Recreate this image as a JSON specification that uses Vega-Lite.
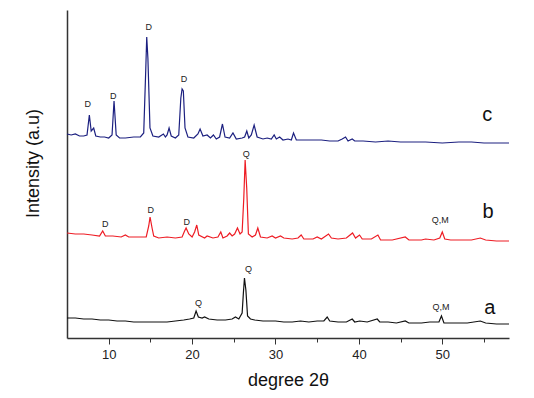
{
  "$schema": "https://vega.github.io/schema/vega-lite/v6.json",
  "width": 442,
  "height": 328,
  "autosize": {"type": "none"},
  "padding": {"left": 67, "top": 10, "right": 25, "bottom": 60},
  "background": "white",
  "config": {"view": {"stroke": null}, "font": "Liberation Sans"},
  "datasets": {
    "xrd": [
      {"s":"c","x":5,"y":204},{"s":"c","x":5.5,"y":203},{"s":"c","x":6,"y":204},{"s":"c","x":6.5,"y":202},{"s":"c","x":7.0,"y":202},{"s":"c","x":7.4,"y":203},{"s":"c","x":7.68,"y":223},{"s":"c","x":7.9,"y":207},{"s":"c","x":8.2,"y":210},{"s":"c","x":8.45,"y":202},{"s":"c","x":9,"y":201},{"s":"c","x":9.5,"y":201},{"s":"c","x":10.0,"y":200},{"s":"c","x":10.4,"y":203},{"s":"c","x":10.64,"y":237},{"s":"c","x":10.9,"y":203},{"s":"c","x":11.3,"y":200},{"s":"c","x":12,"y":200},{"s":"c","x":13,"y":201},{"s":"c","x":13.8,"y":201},{"s":"c","x":14.2,"y":205},{"s":"c","x":14.45,"y":270},{"s":"c","x":14.56,"y":301},{"s":"c","x":14.7,"y":280},{"s":"c","x":14.95,"y":210},{"s":"c","x":15.3,"y":202},{"s":"c","x":16,"y":201},{"s":"c","x":16.56,"y":204},{"s":"c","x":16.8,"y":201},{"s":"c","x":17.0,"y":203},{"s":"c","x":17.24,"y":210},{"s":"c","x":17.5,"y":202},{"s":"c","x":18.0,"y":200},{"s":"c","x":18.4,"y":203},{"s":"c","x":18.65,"y":240},{"s":"c","x":18.8,"y":249},{"s":"c","x":18.95,"y":247},{"s":"c","x":19.15,"y":210},{"s":"c","x":19.5,"y":201},{"s":"c","x":20.2,"y":200},{"s":"c","x":20.7,"y":204},{"s":"c","x":20.96,"y":209},{"s":"c","x":21.3,"y":202},{"s":"c","x":21.8,"y":203},{"s":"c","x":22.2,"y":200},{"s":"c","x":22.56,"y":203},{"s":"c","x":22.9,"y":199},{"s":"c","x":23.3,"y":201},{"s":"c","x":23.64,"y":214},{"s":"c","x":23.95,"y":201},{"s":"c","x":24.5,"y":200},{"s":"c","x":24.9,"y":205},{"s":"c","x":25.3,"y":199},{"s":"c","x":26,"y":200},{"s":"c","x":26.3,"y":201},{"s":"c","x":26.56,"y":207},{"s":"c","x":26.8,"y":200},{"s":"c","x":27.1,"y":203},{"s":"c","x":27.44,"y":213},{"s":"c","x":27.8,"y":201},{"s":"c","x":28.5,"y":199},{"s":"c","x":29,"y":200},{"s":"c","x":29.5,"y":199},{"s":"c","x":29.84,"y":203},{"s":"c","x":30.1,"y":199},{"s":"c","x":30.5,"y":201},{"s":"c","x":30.9,"y":198},{"s":"c","x":31.5,"y":199},{"s":"c","x":31.9,"y":198},{"s":"c","x":32.16,"y":205},{"s":"c","x":32.5,"y":198},{"s":"c","x":33,"y":198},{"s":"c","x":34,"y":198},{"s":"c","x":35.5,"y":198},{"s":"c","x":36.5,"y":197},{"s":"c","x":37.5,"y":197},{"s":"c","x":38,"y":199},{"s":"c","x":38.4,"y":201},{"s":"c","x":38.7,"y":197},{"s":"c","x":39.2,"y":199},{"s":"c","x":39.5,"y":197},{"s":"c","x":40.5,"y":197},{"s":"c","x":42,"y":196},{"s":"c","x":43.5,"y":197},{"s":"c","x":45,"y":196},{"s":"c","x":46.5,"y":196},{"s":"c","x":48,"y":196},{"s":"c","x":50,"y":195},{"s":"c","x":52,"y":196},{"s":"c","x":53.5,"y":196},{"s":"c","x":55,"y":195},{"s":"c","x":56.5,"y":195},{"s":"c","x":58,"y":195},
      {"s":"b","x":5,"y":105},{"s":"b","x":6,"y":104},{"s":"b","x":7,"y":104},{"s":"b","x":8,"y":103},{"s":"b","x":8.9,"y":102},{"s":"b","x":9.28,"y":107},{"s":"b","x":9.6,"y":102},{"s":"b","x":10.5,"y":102},{"s":"b","x":11.5,"y":101},{"s":"b","x":12,"y":103},{"s":"b","x":12.4,"y":101},{"s":"b","x":13.5,"y":101},{"s":"b","x":14.5,"y":101},{"s":"b","x":14.8,"y":112},{"s":"b","x":14.96,"y":121},{"s":"b","x":15.2,"y":110},{"s":"b","x":15.4,"y":102},{"s":"b","x":16,"y":100},{"s":"b","x":17,"y":101},{"s":"b","x":18,"y":100},{"s":"b","x":18.8,"y":101},{"s":"b","x":19.1,"y":107},{"s":"b","x":19.28,"y":110},{"s":"b","x":19.6,"y":104},{"s":"b","x":20.0,"y":101},{"s":"b","x":20.3,"y":106},{"s":"b","x":20.56,"y":113},{"s":"b","x":20.8,"y":103},{"s":"b","x":21.5,"y":100},{"s":"b","x":21.8,"y":102},{"s":"b","x":22.5,"y":100},{"s":"b","x":23.1,"y":101},{"s":"b","x":23.44,"y":106},{"s":"b","x":23.7,"y":100},{"s":"b","x":24.2,"y":102},{"s":"b","x":24.5,"y":105},{"s":"b","x":24.8,"y":102},{"s":"b","x":25.1,"y":104},{"s":"b","x":25.44,"y":110},{"s":"b","x":25.75,"y":104},{"s":"b","x":26.0,"y":106},{"s":"b","x":26.2,"y":140},{"s":"b","x":26.36,"y":178},{"s":"b","x":26.55,"y":150},{"s":"b","x":26.75,"y":104},{"s":"b","x":27.2,"y":101},{"s":"b","x":27.6,"y":103},{"s":"b","x":27.88,"y":110},{"s":"b","x":28.2,"y":101},{"s":"b","x":29,"y":100},{"s":"b","x":29.6,"y":102},{"s":"b","x":30.0,"y":100},{"s":"b","x":30.6,"y":102},{"s":"b","x":31,"y":100},{"s":"b","x":32,"y":99},{"s":"b","x":32.7,"y":100},{"s":"b","x":33.08,"y":103},{"s":"b","x":33.4,"y":99},{"s":"b","x":34.5,"y":99},{"s":"b","x":35,"y":101},{"s":"b","x":35.5,"y":99},{"s":"b","x":36.36,"y":104},{"s":"b","x":36.7,"y":100},{"s":"b","x":37.5,"y":99},{"s":"b","x":38.5,"y":100},{"s":"b","x":39.24,"y":105},{"s":"b","x":39.6,"y":100},{"s":"b","x":40.08,"y":103},{"s":"b","x":40.4,"y":99},{"s":"b","x":41.5,"y":99},{"s":"b","x":42.28,"y":103},{"s":"b","x":42.6,"y":98},{"s":"b","x":44,"y":98},{"s":"b","x":45.56,"y":101},{"s":"b","x":46,"y":98},{"s":"b","x":47.5,"y":98},{"s":"b","x":48,"y":99},{"s":"b","x":49,"y":98},{"s":"b","x":49.7,"y":100},{"s":"b","x":50.0,"y":106},{"s":"b","x":50.3,"y":99},{"s":"b","x":51,"y":98},{"s":"b","x":52.5,"y":98},{"s":"b","x":53.5,"y":98},{"s":"b","x":54.56,"y":100},{"s":"b","x":55.2,"y":98},{"s":"b","x":56.5,"y":97},{"s":"b","x":58,"y":97},
      {"s":"a","x":5,"y":20},{"s":"a","x":6,"y":20},{"s":"a","x":7,"y":19},{"s":"a","x":8,"y":19},{"s":"a","x":9,"y":18},{"s":"a","x":10,"y":18},{"s":"a","x":11,"y":17},{"s":"a","x":12,"y":17},{"s":"a","x":13,"y":16},{"s":"a","x":14,"y":16},{"s":"a","x":15,"y":16},{"s":"a","x":16,"y":16},{"s":"a","x":17,"y":16},{"s":"a","x":18,"y":17},{"s":"a","x":19,"y":18},{"s":"a","x":19.7,"y":19},{"s":"a","x":20.2,"y":20},{"s":"a","x":20.48,"y":27},{"s":"a","x":20.75,"y":21},{"s":"a","x":21.2,"y":20},{"s":"a","x":21.5,"y":21},{"s":"a","x":22,"y":19},{"s":"a","x":23,"y":18},{"s":"a","x":24,"y":18},{"s":"a","x":24.8,"y":19},{"s":"a","x":25.2,"y":21},{"s":"a","x":25.6,"y":19},{"s":"a","x":26.0,"y":25},{"s":"a","x":26.15,"y":45},{"s":"a","x":26.28,"y":60},{"s":"a","x":26.45,"y":48},{"s":"a","x":26.65,"y":22},{"s":"a","x":27,"y":19},{"s":"a","x":27.5,"y":18},{"s":"a","x":28.5,"y":17},{"s":"a","x":30,"y":17},{"s":"a","x":31,"y":16},{"s":"a","x":32,"y":16},{"s":"a","x":33,"y":17},{"s":"a","x":34,"y":16},{"s":"a","x":35,"y":17},{"s":"a","x":35.8,"y":17},{"s":"a","x":36.2,"y":21},{"s":"a","x":36.5,"y":17},{"s":"a","x":37.5,"y":16},{"s":"a","x":38.5,"y":16},{"s":"a","x":39.2,"y":19},{"s":"a","x":39.5,"y":16},{"s":"a","x":40.1,"y":17},{"s":"a","x":41,"y":16},{"s":"a","x":42.2,"y":19},{"s":"a","x":42.5,"y":16},{"s":"a","x":43.5,"y":16},{"s":"a","x":44.5,"y":15},{"s":"a","x":45.56,"y":17},{"s":"a","x":46,"y":15},{"s":"a","x":47.5,"y":15},{"s":"a","x":48.5,"y":16},{"s":"a","x":49.6,"y":16},{"s":"a","x":49.9,"y":22},{"s":"a","x":50.2,"y":15},{"s":"a","x":51.5,"y":15},{"s":"a","x":53,"y":15},{"s":"a","x":54.56,"y":17},{"s":"a","x":55.2,"y":15},{"s":"a","x":56.5,"y":14},{"s":"a","x":58,"y":14}
    ],
    "peaks": [
      {"x":7.48,"y":234,"t":"D"},{"x":10.56,"y":242,"t":"D"},{"x":14.8,"y":311,"t":"D"},{"x":19.04,"y":259,"t":"D"},
      {"x":9.6,"y":114,"t":"D"},{"x":15.04,"y":128,"t":"D"},{"x":19.36,"y":116,"t":"D"},{"x":26.48,"y":184,"t":"Q"},{"x":49.76,"y":118,"t":"Q,M"},
      {"x":20.76,"y":35,"t":"Q"},{"x":26.76,"y":69,"t":"Q"},{"x":49.84,"y":31,"t":"Q,M"}
    ],
    "names": [
      {"x":55.7,"y":30,"t":"a"},{"x":55.5,"y":126,"t":"b"},{"x":55.4,"y":223,"t":"c"}
    ]
  },
  "layer": [
    {
      "data": {"name": "xrd"},
      "mark": {"type": "line", "strokeWidth": 1.2, "interpolate": "linear"},
      "encoding": {
        "x": {"field": "x", "type": "quantitative", "scale": {"domain": [5, 58], "nice": false, "zero": false},
              "axis": {"values": [10, 15, 20, 25, 30, 35, 40, 45, 50, 55], "title": "degree 2θ", "grid": false, "domainColor": "#333", "domainWidth": 1.5,
                       "labelExpr": "datum.value % 10 === 0 ? datum.label : ''",
                       "tickColor": "#333", "tickSize": {"condition": {"test": "datum.value % 10 === 0", "value": 6}, "value": 4},
                       "labelFontSize": 13, "labelColor": "#222", "labelPadding": 4,
                       "titleFontSize": 18, "titleFontWeight": "normal", "titleColor": "#111", "titlePadding": 10}},
        "y": {"field": "y", "type": "quantitative", "scale": {"domain": [0, 328], "nice": false},
              "axis": {"ticks": false, "labels": false, "grid": false, "domainColor": "#333", "domainWidth": 1.5,
                       "title": "Intensity (a.u)", "titleFontSize": 18, "titleFontWeight": "normal", "titleColor": "#111",
                       "titleX": -34, "titleY": 153, "titleBaseline": "middle", "titleAngle": -90, "titleAlign": "center"}},
        "color": {"field": "s", "type": "nominal", "scale": {"domain": ["a", "b", "c"], "range": ["#111111", "#ee1c24", "#1c2080"]}, "legend": null},
        "detail": {"field": "s"}
      }
    },
    {
      "data": {"name": "peaks"},
      "mark": {"type": "text", "fontSize": 9, "fill": "#222222", "baseline": "middle", "align": "center"},
      "encoding": {
        "x": {"field": "x", "type": "quantitative"},
        "y": {"field": "y", "type": "quantitative"},
        "text": {"field": "t"}
      }
    },
    {
      "data": {"name": "names"},
      "mark": {"type": "text", "fontSize": 20, "fill": "#111111", "baseline": "middle", "align": "center"},
      "encoding": {
        "x": {"field": "x", "type": "quantitative"},
        "y": {"field": "y", "type": "quantitative"},
        "text": {"field": "t"}
      }
    }
  ]
}
